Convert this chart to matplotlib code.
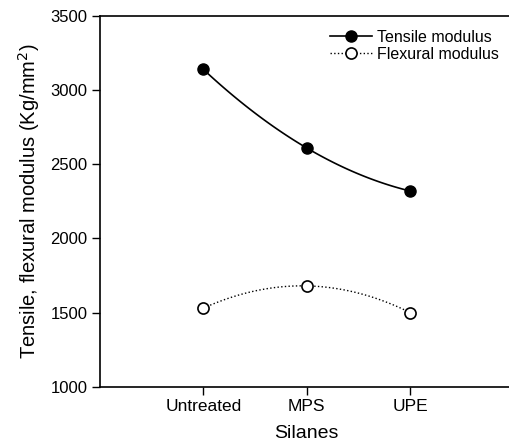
import numpy as np
import matplotlib.pyplot as plt

plt.rcParams['font.family'] = ['Liberation Sans', 'DejaVu Sans']

# silane treatment vs modulus
silanes = ['Untreated', 'MPS', 'UPE']
tensile = [3140, 2610, 2320]
flexural = [1530, 1680, 1500]

x = np.arange(1, len(silanes) + 1)
xs = np.linspace(x[0], x[-1], 100)

fig = plt.figure(figsize=(5.09, 4.43), dpi=100)
ax = fig.add_axes([0.1965, 0.127, 0.8124, 0.8368])

# smooth curves through the points, markers at the measured values
ax.plot(xs, np.polyval(np.polyfit(x, tensile, 2), xs), '-', color='black', lw=1.2)
ax.plot(xs, np.polyval(np.polyfit(x, flexural, 2), xs), ':', color='black', lw=1.0)
ax.plot(x, tensile, 'o', color='black', ms=8)
ax.plot(x, flexural, 'o', mfc='white', mec='black', mew=1.2, ms=8)

# legend entries
ax.plot([], [], '-o', color='black', lw=1.2, ms=8, label='Tensile modulus')
ax.plot([], [], ':o', color='black', lw=1.0, mfc='white', mec='black', mew=1.2, ms=8,
        label='Flexural modulus')
ax.legend(loc='upper left', bbox_to_anchor=(330 / 509, 1 - 30 / 443),
          bbox_transform=fig.transFigure, frameon=False, fontsize=11.5,
          handlelength=2.6, handletextpad=0.35, labelspacing=0.1,
          borderpad=0, borderaxespad=0)

ax.set_xlim(0, 4)
ax.set_ylim(1000, 3500)
ax.set_xticks(x)
ax.set_xticklabels(silanes)
ax.set_yticks(np.arange(1000, 3501, 500))
ax.tick_params(labelsize=12, length=6, width=1, direction='out', pad=3)
ax.tick_params(axis='x', labelsize=12.5, pad=3)
ax.spines['right'].set_visible(False)
for s in ['left', 'bottom', 'top']:
    ax.spines[s].set_linewidth(1.2)

ax.set_xlabel('Silanes', fontsize=14, labelpad=8)
ax.set_ylabel('Tensile, flexural modulus (Kg/mm$^2$)', fontsize=14.5, labelpad=6)

fig.savefig('out.png', dpi=100)
